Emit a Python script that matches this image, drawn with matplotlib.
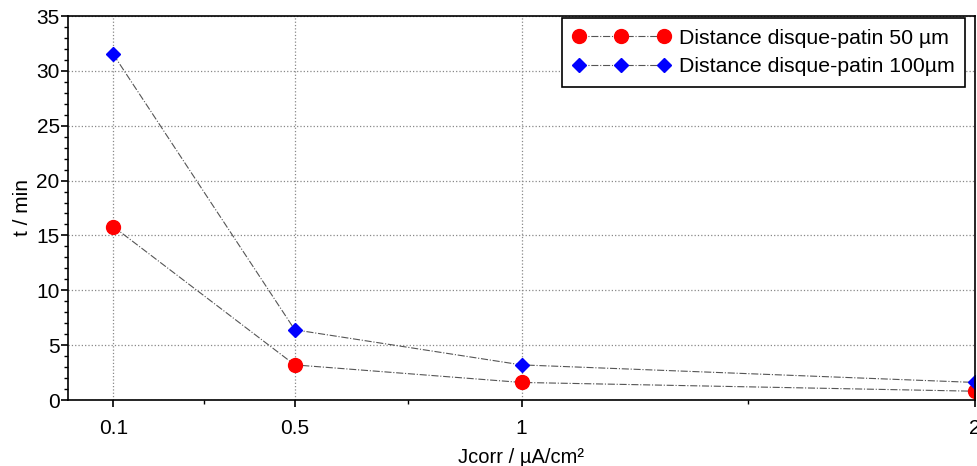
import matplotlib.pyplot as plt
from matplotlib.ticker import FixedLocator, MultipleLocator

plt.rcParams['font.family'] = ['Liberation Sans', 'DejaVu Sans']

# data
jcorr = [0.1, 0.5, 1, 2]
t_50um = [15.8, 3.2, 1.6, 0.8]
t_100um = [31.5, 6.4, 3.2, 1.6]
xtick_labels = ['0.1', '0.5', '1', '2']

fig = plt.figure(figsize=(9.77, 4.66), dpi=100)
ax = fig.add_axes([68/977, 66/466, 907/977, 384/466])

ax.plot(jcorr, t_50um, linestyle='-.', color='#555555', linewidth=0.8,
        marker='o', markersize=10, markerfacecolor='red', markeredgecolor='red',
        label='Distance disque-patin 50 µm')
ax.plot(jcorr, t_100um, linestyle='-.', color='#555555', linewidth=0.8,
        marker='D', markersize=7, markerfacecolor='blue', markeredgecolor='blue',
        label='Distance disque-patin 100µm')

ax.set_xlim(0, 2)
ax.set_ylim(0, 35)
ax.set_xticks(jcorr)
ax.set_xticklabels(xtick_labels)
ax.xaxis.set_minor_locator(FixedLocator([0.3, 0.75, 1.5]))
ax.yaxis.set_major_locator(MultipleLocator(5))
ax.yaxis.set_minor_locator(MultipleLocator(1))
ax.tick_params(which='major', labelsize=15, length=5, width=1.2)
ax.tick_params(which='minor', length=3, width=1)
ax.tick_params(axis='x', pad=9)
ax.tick_params(axis='y', pad=1)

ax.grid(True, which='major', linestyle=':', color='#888888', linewidth=0.9)
for s in ax.spines.values():
    s.set_linewidth(1.2)
    s.set_color('black')

ax.set_xlabel('Jcorr / µA/cm²', fontsize=14.5, labelpad=7)
ax.set_ylabel('t / min', fontsize=15, labelpad=3)

leg = ax.legend(loc='upper right', bbox_to_anchor=(0.989, 0.995), borderaxespad=0,
                numpoints=3, fontsize=15.3, fancybox=False, edgecolor='black',
                framealpha=1, handlelength=4.6, handletextpad=0.4,
                labelspacing=0.45, borderpad=0.5)
leg.get_frame().set_linewidth(1.2)

fig.savefig('out.png', dpi=100)
